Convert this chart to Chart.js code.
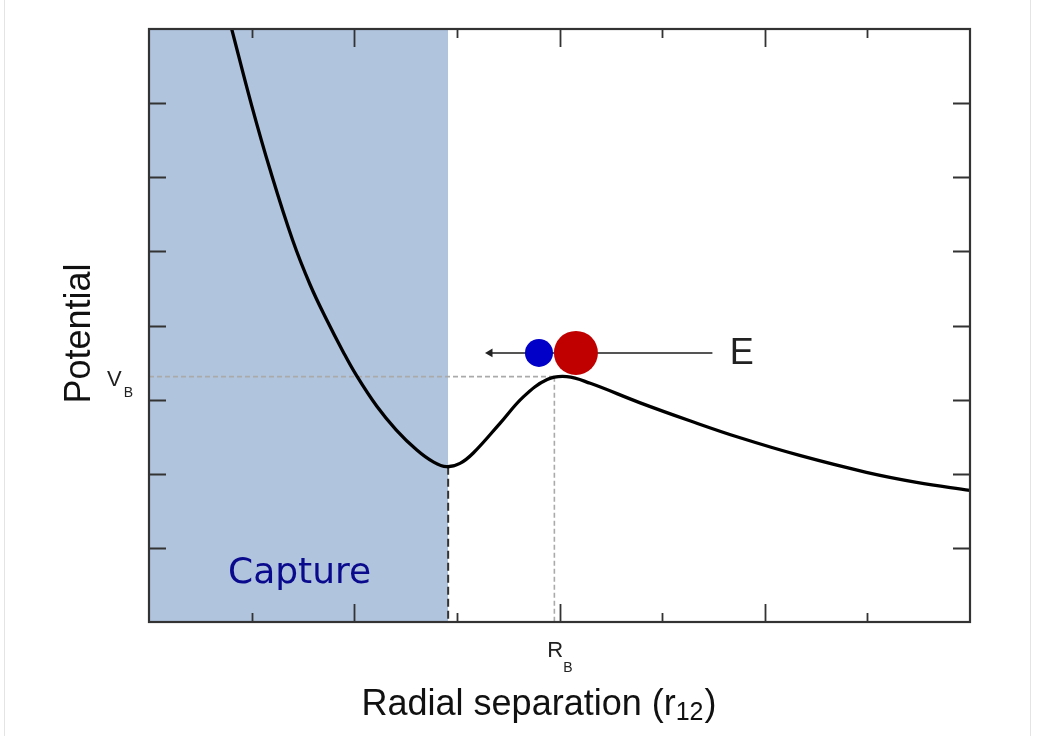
<!DOCTYPE html>
<html>
<head>
<meta charset="utf-8">
<title>Potential vs radial separation</title>
<script src="https://cdn.jsdelivr.net/npm/chart.js@4/dist/chart.umd.min.js"></script>
<style>
  html, body { margin: 0; padding: 0; background: #fff; }
  #wrap { position: relative; width: 1039px; height: 736px; }
  .edge { position: absolute; top: 0; width: 1px; height: 736px; background: #e4e4e4; }
</style>
</head>
<body>
<div id="wrap">
  <canvas id="potentialChart" width="1039" height="736"></canvas>
  <div class="edge" style="left:4px"></div>
  <div class="edge" style="left:1030px"></div>
</div>
<script>
// curve (axis units 0..8 on both axes)
const separation = [0.80, 1.00, 1.18, 1.40, 1.57, 1.73, 1.89, 2.02, 2.22, 2.41, 2.61, 2.77, 2.90, 3.03,
                    3.16, 3.42, 3.65, 3.88, 4.07, 4.30, 4.78, 5.27, 5.76, 6.34, 6.99, 7.48, 8.00];
const potential  = [8.03, 6.97, 6.10, 5.15, 4.55, 4.08, 3.65, 3.33, 2.91, 2.59, 2.32, 2.16, 2.095, 2.14,
                    2.28, 2.68, 3.04, 3.27, 3.31, 3.22, 2.96, 2.715, 2.485, 2.247, 2.02, 1.885, 1.775];

const xTicks = [1, 2, 3, 4, 5, 6, 7];
const xMajorTicks = [2, 4, 6];
const yTicks = [1, 2, 3, 4, 5, 6, 7];

const barrierHeight = 3.31;   // V_B
const barrierRadius = 3.95;   // R_B
const captureRadius = 2.915;
const wellBottom = 2.095;

const particleY = 3.63;
const electronX = 3.80;
const ionX = 4.16;
const arrowStart = 5.49;
const arrowEnd = 3.323;

const particles = [
  { name: 'electron', x: electronX, r: 14, color: '#0000c8' },
  { name: 'ion', x: ionX, r: 22, color: '#c00000' }
];

const curveData = separation.map((x, i) => ({ x: x, y: potential[i] }));

const frame = {
  id: 'frame',
  afterDatasetsDraw(chart) {
    const { ctx, chartArea: a, scales: { x, y } } = chart;
    ctx.save();

    // inward ticks
    ctx.strokeStyle = '#333';
    ctx.lineWidth = 1.8;
    ctx.beginPath();
    xTicks.forEach(t => {
      const px = Math.round(x.getPixelForValue(t)) + 0.5;
      const len = xMajorTicks.includes(t) ? 18 : 9;
      ctx.moveTo(px, a.bottom); ctx.lineTo(px, a.bottom - len);
      ctx.moveTo(px, a.top); ctx.lineTo(px, a.top + len);
    });
    yTicks.forEach(t => {
      const py = Math.round(y.getPixelForValue(t)) + 0.5;
      ctx.moveTo(a.left, py); ctx.lineTo(a.left + 17, py);
      ctx.moveTo(a.right, py); ctx.lineTo(a.right - 17, py);
    });
    ctx.stroke();

    // frame
    ctx.lineWidth = 2.2;
    ctx.strokeRect(a.left, a.top, a.right - a.left, a.bottom - a.top);

    // V_B label
    ctx.fillStyle = '#222';
    ctx.textBaseline = 'alphabetic';
    ctx.textAlign = 'left';
    const vy = y.getPixelForValue(barrierHeight);
    ctx.font = '22px "Liberation Sans", Arial, sans-serif';
    ctx.fillText('V', 107, vy + 9);
    const vw = ctx.measureText('V').width;
    ctx.font = '14px "Liberation Sans", Arial, sans-serif';
    ctx.fillText('B', 107 + vw + 2, vy + 20);

    // R_B label
    const rx = x.getPixelForValue(barrierRadius) - 7;
    ctx.font = '22px "Liberation Sans", Arial, sans-serif';
    ctx.fillText('R', rx, a.bottom + 35);
    const rw = ctx.measureText('R').width;
    ctx.font = '14px "Liberation Sans", Arial, sans-serif';
    ctx.fillText('B', rx + rw, a.bottom + 50);

    // E label
    ctx.fillStyle = '#222';
    ctx.font = '36px "Liberation Sans", Arial, sans-serif';
    ctx.textBaseline = 'middle';
    ctx.fillText('E', x.getPixelForValue(5.66), y.getPixelForValue(particleY) + 1);

    // Capture label
    ctx.textBaseline = 'alphabetic';
    ctx.fillStyle = '#0a0a8c';
    ctx.font = '36px "DejaVu Sans", Verdana, sans-serif';
    ctx.fillText('Capture', x.getPixelForValue(0.77), y.getPixelForValue(0.52));

    // x axis title with subscript
    ctx.fillStyle = '#111';
    const mainFont = '36px "Liberation Sans", Arial, sans-serif';
    const subFont = '25px "Liberation Sans", Arial, sans-serif';
    ctx.font = mainFont;
    const t1 = 'Radial separation (r';
    const w1 = ctx.measureText(t1).width;
    const w3 = ctx.measureText(')').width;
    ctx.font = subFont;
    const w2 = ctx.measureText('12').width;
    let tx = (a.left + a.right) / 2 - 21 - (w1 + w2 + w3) / 2;
    const ty = a.bottom + 93;
    ctx.font = mainFont;
    ctx.fillText(t1, tx, ty);
    ctx.font = subFont;
    ctx.fillText('12', tx + w1, ty + 5);
    ctx.font = mainFont;
    ctx.fillText(')', tx + w1 + w2 + 1, ty);

    // y axis title
    ctx.translate(90, (a.top + a.bottom) / 2 + 8);
    ctx.rotate(-Math.PI / 2);
    ctx.textAlign = 'center';
    ctx.font = mainFont;
    ctx.fillText('Potential', 0, 0);

    ctx.restore();
  }
};

const ctx = document.getElementById('potentialChart').getContext('2d');
const potentialChart = new Chart(ctx, {
  type: 'scatter',
  data: {
    datasets: [
      {
        label: 'Capture region',
        data: [{ x: 0, y: 8 }, { x: captureRadius, y: 8 }],
        showLine: true,
        fill: 'origin',
        backgroundColor: '#b0c4de',
        borderWidth: 0,
        pointRadius: 0,
        order: 10
      },
      {
        label: 'V_B',
        data: [{ x: 0, y: barrierHeight }, { x: barrierRadius, y: barrierHeight }],
        showLine: true,
        borderColor: '#aaaaaa',
        borderWidth: 1.6,
        borderDash: [5, 3],
        pointRadius: 0,
        order: 6
      },
      {
        label: 'R_B',
        data: [{ x: barrierRadius, y: barrierHeight }, { x: barrierRadius, y: 0 }],
        showLine: true,
        borderColor: '#aaaaaa',
        borderWidth: 1.6,
        borderDash: [5, 3],
        pointRadius: 0,
        order: 6
      },
      {
        label: 'Capture radius',
        data: [{ x: captureRadius, y: wellBottom }, { x: captureRadius, y: 0 }],
        showLine: true,
        borderColor: '#333',
        borderWidth: 2,
        borderDash: [8, 4],
        pointRadius: 0,
        order: 5
      },
      {
        label: 'Potential',
        data: curveData,
        showLine: true,
        borderColor: '#000',
        borderWidth: 3.3,
        tension: 0.4,
        pointRadius: 0,
        order: 2
      },
      {
        label: 'Energy',
        data: [{ x: arrowStart, y: particleY }, { x: arrowEnd, y: particleY }],
        showLine: true,
        borderColor: '#555',
        borderWidth: 2,
        pointRadius: [0, 5],
        pointStyle: 'triangle',
        rotation: 270,
        pointBackgroundColor: '#222',
        pointBorderWidth: 0,
        order: 3
      },
      ...particles.map((p, i) => ({
        label: p.name,
        data: [{ x: p.x, y: particleY }],
        pointRadius: p.r,
        pointBackgroundColor: p.color,
        pointBorderWidth: 0,
        order: 1 - i
      }))
    ]
  },
  options: {
    responsive: false,
    animation: false,
    events: [],
    layout: { padding: { left: 149, top: 29, right: 69, bottom: 114 } },
    scales: {
      x: { type: 'linear', min: 0, max: 8, display: false },
      y: { type: 'linear', min: 0, max: 8, display: false }
    },
    plugins: {
      legend: { display: false },
      tooltip: { enabled: false }
    }
  },
  plugins: [frame]
});
</script>
</body>
</html>
